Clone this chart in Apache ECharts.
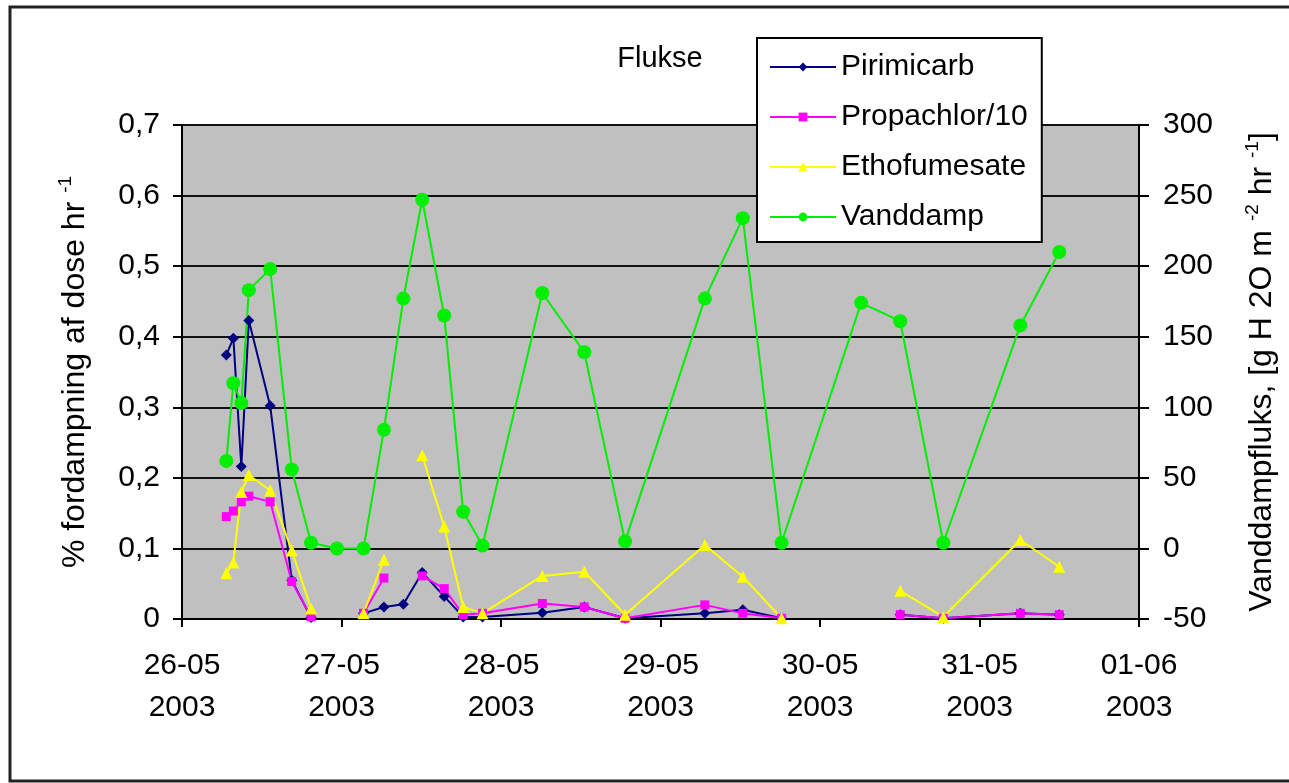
<!DOCTYPE html>
<html>
<head>
<meta charset="utf-8">
<title>Flukse</title>
<script src="https://cdn.jsdelivr.net/npm/echarts@6/dist/echarts.min.js"></script>
<style>
  html, body { margin: 0; padding: 0; background: #fff; }
  #chart { width: 1289px; height: 783px; }
</style>
</head>
<body>
<div id="chart"></div>
<script>
// time of each measurement, in days after 26-05-2003 00:00
const days = [0.278, 0.322, 0.372, 0.419, 0.553, 0.688, 0.809, 0.971, 1.138, 1.266, 1.388, 1.506, 1.644,
  1.763, 1.884, 2.259, 2.522, 2.778, 3.278, 3.516, 3.759, 4.258, 4.503, 4.773, 5.256, 5.5]

// % fordampning af dose hr-1 (left axis)
const pirimicarb = [0.374, 0.398, 0.216, 0.423, 0.302, 0.055, 0.002, null, 0.008, 0.017, 0.021, 0.066, 0.032,
  0.003, 0.003, 0.009, 0.017, 0.001, 0.008, 0.013, 0.001, null, 0.006, 0.001, 0.008, 0.006]
const propachlor = [0.145, 0.153, 0.166, 0.174, 0.166, 0.053, 0.003, null, 0.008, 0.058, null, 0.061, 0.043,
  0.006, 0.008, 0.022, 0.017, 0.001, 0.02, 0.008, 0.001, null, 0.006, 0.001, 0.008, 0.006]
const ethofumesate = [0.065, 0.080, 0.180, 0.204, 0.182, 0.097, 0.015, null, 0.008, 0.084, null, 0.232, 0.131,
  0.017, 0.008, 0.061, 0.067, 0.006, 0.105, 0.060, 0.001, null, 0.040, 0.003, 0.112, 0.074]

// g H2O m-2 hr-1 (right axis)
const vanddamp = [62, 117, 103, 183, 198, 56, 4, 0, 0, 84, 177, 247, 165,
  26, 2, 181, 139, 5, 177, 234, 4, 174, 161, 4, 158, 210]

const dateLabels = ['26-05\n2003', '27-05\n2003', '28-05\n2003', '29-05\n2003', '30-05\n2003', '31-05\n2003', '01-06\n2003']

const FONT = '"Liberation Sans", Arial, sans-serif'

function pairs(values) {
  return days.map((d, i) => [d, values[i] == null ? '-' : values[i]])
}

const chart = echarts.init(document.getElementById('chart'))

chart.setOption({
  animation: false,
  backgroundColor: '#fff',
  textStyle: { fontFamily: FONT },
  graphic: [
    {
      type: 'rect',
      shape: { x: 10, y: 7, width: 1300, height: 774 },
      style: { fill: 'none', stroke: '#222', lineWidth: 3 },
      silent: true
    },
    {
      type: 'text',
      x: 660,
      y: 59,
      style: {
        text: 'Flukse',
        font: '29px ' + FONT,
        fill: '#000',
        align: 'center',
        verticalAlign: 'middle'
      }
    }
  ],
  legend: {
    orient: 'vertical',
    left: 757,
    top: 38,
    padding: [12, 14, 8, 12],
    itemWidth: 66,
    itemHeight: 11,
    itemGap: 16,
    backgroundColor: '#fff',
    borderColor: '#000',
    borderWidth: 2,
    textStyle: { fontSize: 30, lineHeight: 34, color: '#000', fontFamily: FONT },
    data: ['Pirimicarb', 'Propachlor/10', 'Ethofumesate', 'Vanddamp']
  },
  grid: {
    left: 182,
    right: 147,
    top: 125,
    bottom: 164,
    show: true,
    backgroundColor: '#c0c0c0',
    borderWidth: 0
  },
  xAxis: {
    type: 'value',
    min: 0,
    max: 6,
    interval: 1,
    axisLine: { lineStyle: { color: '#000', width: 2 } },
    axisTick: { show: true, length: 8, lineStyle: { color: '#000', width: 2 } },
    splitLine: { show: false },
    axisLabel: {
      color: '#000',
      fontSize: 30,
      lineHeight: 42,
      margin: 26,
      formatter: v => dateLabels[Math.round(v)]
    }
  },
  yAxis: [
    {
      type: 'value',
      min: 0,
      max: 0.7,
      interval: 0.1,
      name: '% fordampning af dose hr {sup|-1}',
      nameLocation: 'middle',
      nameRotate: 90,
      nameGap: 88,
      nameTextStyle: {
        color: '#000',
        fontSize: 32,
        lineHeight: 38,
        rich: { sup: { fontSize: 19, lineHeight: 19, verticalAlign: 'top', color: '#000' } }
      },
      axisLine: { show: true, lineStyle: { color: '#000', width: 2 } },
      axisTick: { show: true, length: 9, lineStyle: { color: '#000', width: 2 } },
      splitLine: { show: true, lineStyle: { color: '#111', width: 2 } },
      axisLabel: {
        color: '#000',
        fontSize: 30,
        margin: 22,
        formatter: v => v === 0 ? '0' : v.toFixed(1).replace('.', ',')
      }
    },
    {
      type: 'value',
      min: -50,
      max: 300,
      interval: 50,
      position: 'right',
      name: 'Vanddampfluks, [g H 2O m {sup|-2} hr {sup|-1}]',
      nameLocation: 'middle',
      nameRotate: 90,
      nameGap: 104,
      nameTextStyle: {
        color: '#000',
        fontSize: 32,
        lineHeight: 38,
        rich: { sup: { fontSize: 19, lineHeight: 19, verticalAlign: 'top', color: '#000' } }
      },
      axisLine: { show: true, lineStyle: { color: '#000', width: 2 } },
      axisTick: { show: true, length: 10, lineStyle: { color: '#000', width: 2 } },
      splitLine: { show: false },
      axisLabel: { color: '#000', fontSize: 30, margin: 24 }
    }
  ],
  series: [
    {
      name: 'Pirimicarb',
      type: 'line',
      data: pairs(pirimicarb),
      symbol: 'diamond',
      symbolSize: 11,
      itemStyle: { color: '#000080' },
      lineStyle: { color: '#000080', width: 2 },
      connectNulls: false
    },
    {
      name: 'Propachlor/10',
      type: 'line',
      data: pairs(propachlor),
      symbol: 'rect',
      symbolSize: 9,
      itemStyle: { color: '#ff00ff' },
      lineStyle: { color: '#ff00ff', width: 2 },
      connectNulls: false
    },
    {
      name: 'Ethofumesate',
      type: 'line',
      data: pairs(ethofumesate),
      symbol: 'triangle',
      symbolSize: 12,
      itemStyle: { color: '#ffff00' },
      lineStyle: { color: '#ffff00', width: 2 },
      connectNulls: false
    },
    {
      name: 'Vanddamp',
      type: 'line',
      yAxisIndex: 1,
      data: pairs(vanddamp),
      symbol: 'circle',
      symbolSize: 14,
      itemStyle: { color: '#00ee00' },
      lineStyle: { color: '#00ee00', width: 2 }
    }
  ]
})
</script>
</body>
</html>
